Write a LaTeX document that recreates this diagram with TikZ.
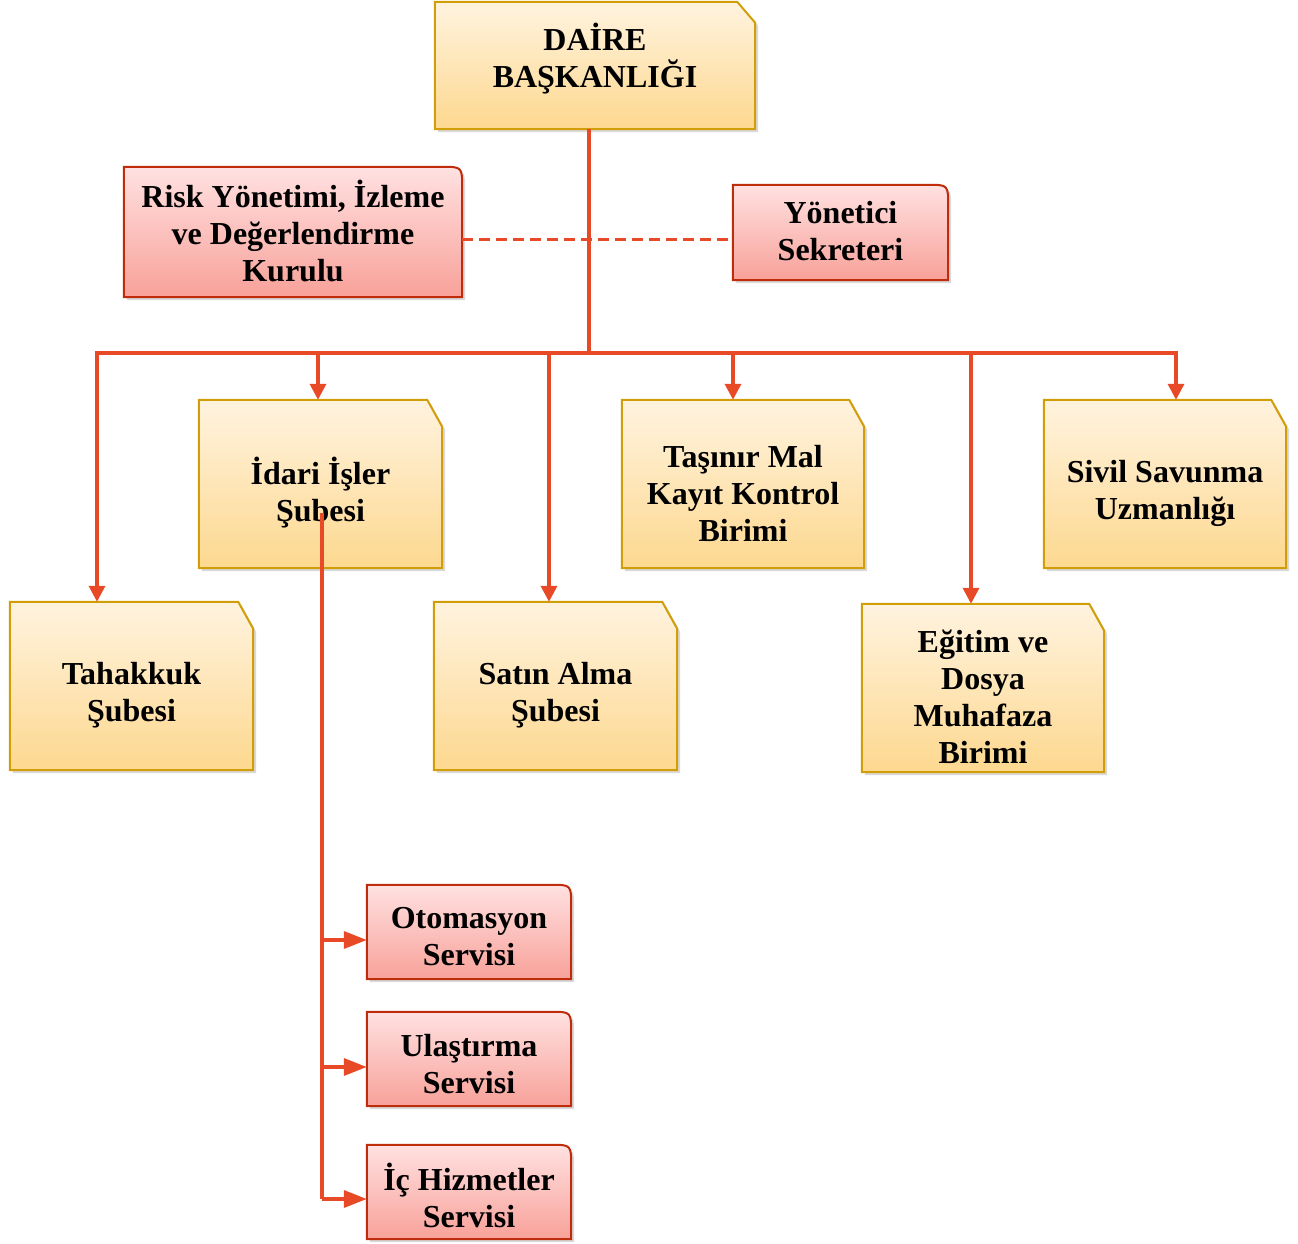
\documentclass[tikz,border=0pt]{standalone}
\usepackage{fontspec}
\setmainfont{Liberation Serif}
\usetikzlibrary{arrows.meta,shadows,backgrounds,calc}
\definecolor{lnc}{HTML}{E84A27}
\definecolor{ytop}{HTML}{FFF3DF}
\definecolor{ybot}{HTML}{FDD88F}
\definecolor{ybrd}{HTML}{D19E0A}
\definecolor{rtop}{HTML}{FFE1E1}
\definecolor{rbot}{HTML}{F8A199}
\definecolor{rbrd}{HTML}{BE2C0C}
\tikzset{
  boxn/.style={inner sep=0pt},
  txt/.style={align=center, inner sep=0pt, font=\fontsize{32}{37}\selectfont\bfseries},
  ybstyle/.style={draw=ybrd, line width=2pt, top color=ytop, bottom color=ybot,
    drop shadow={opacity=0.3, shadow xshift=3pt, shadow yshift=-3pt}},
  rbstyle/.style={draw=rbrd, line width=2pt, top color=rtop, bottom color=rbot,
    drop shadow={opacity=0.3, shadow xshift=3pt, shadow yshift=-3pt}},
  ln/.style={draw=lnc, line width=3.5pt},
  arr/.style={ln, -{Triangle[width=16pt,length=16pt]}},
  arrb/.style={ln, -{Triangle[width=17pt,length=23pt]}},
  dashln/.style={draw=lnc, line width=3pt, dash pattern=on 11pt off 6pt}
}
\newcommand\ybox[3]{\path[ybstyle] (#1.south west) -- (#1.north west) -- ($(#1.north east)+(-#2,0)$) -- ($(#1.north east)+(0,-#3)$) -- (#1.south east) -- cycle;}
\newcommand\rbox[1]{\path[rbstyle] (#1.south west) -- (#1.north west) -- ($(#1.north east)+(-20,0)$) .. controls (#1.north east) .. ($(#1.north east)+(0,-22)$) -- (#1.south east) -- cycle;}
\begin{document}
\begin{tikzpicture}[x=1pt,y=1pt]
\useasboundingbox (0,0) rectangle (1298,1243);
% box frames (named, empty)
\node[boxn, minimum width=320pt, minimum height=127pt] (top) at (595,1177.5) {};
\node[boxn, minimum width=338pt, minimum height=130pt] (risk) at (293,1011) {};
\node[boxn, minimum width=215pt, minimum height=95pt] (yon) at (840.5,1010.5) {};
\node[boxn, minimum width=243pt, minimum height=168pt] (idari) at (320.5,759) {};
\node[boxn, minimum width=242pt, minimum height=168pt] (tasinir) at (743,759) {};
\node[boxn, minimum width=242pt, minimum height=168pt] (sivil) at (1165,759) {};
\node[boxn, minimum width=243pt, minimum height=168pt] (tah) at (131.5,557) {};
\node[boxn, minimum width=243pt, minimum height=168pt] (satin) at (555.5,557) {};
\node[boxn, minimum width=242pt, minimum height=168pt] (egitim) at (983,555) {};
\node[boxn, minimum width=204pt, minimum height=94pt] (oto) at (469,311) {};
\node[boxn, minimum width=204pt, minimum height=94pt] (ulas) at (469,184) {};
\node[boxn, minimum width=204pt, minimum height=94pt] (ic) at (469,51) {};
% box shapes
\ybox{top}{18}{21}
\ybox{idari}{15}{27}
\ybox{tasinir}{15}{27}
\ybox{sivil}{15}{27}
\ybox{tah}{15}{27}
\ybox{satin}{15}{27}
\ybox{egitim}{15}{27}
\rbox{risk}
\rbox{yon}
\rbox{oto}
\rbox{ulas}
\rbox{ic}
% texts
\node[txt, yshift=7] (top-t) at (top) {DAİRE\\BAŞKANLIĞI};
\node[txt, yshift=1] (risk-t) at (risk) {Risk Yönetimi, İzleme\\ve Değerlendirme\\Kurulu};
\node[txt, yshift=1] (yon-t) at (yon) {Yönetici\\Sekreteri};
\node[txt, yshift=-9] (idari-t) at (idari) {İdari İşler\\Şubesi};
\node[txt, yshift=-9] (tasinir-t) at (tasinir) {Taşınır Mal\\Kayıt Kontrol\\Birimi};
\node[txt, yshift=-9] (sivil-t) at (sivil) {Sivil Savunma\\Uzmanlığı};
\node[txt, yshift=-9] (tah-t) at (tah) {Tahakkuk\\Şubesi};
\node[txt, yshift=-9] (satin-t) at (satin) {Satın Alma\\Şubesi};
\node[txt, yshift=-9] (egitim-t) at (egitim) {Eğitim ve\\Dosya\\Muhafaza\\Birimi};
\node[txt, yshift=-5] (oto-t) at (oto) {Otomasyon\\Servisi};
\node[txt, yshift=-5] (ulas-t) at (ulas) {Ulaştırma\\Servisi};
\node[txt, yshift=-3] (ic-t) at (ic) {İç Hizmetler\\Servisi};
% connectors
\coordinate (hub) at (589,890);
\coordinate (b1) at (97,890);
\coordinate (b2) at (318,890);
\coordinate (b3) at (549,890);
\coordinate (b4) at (733,890);
\coordinate (b5) at (971,890);
\coordinate (b6) at (1176,890);
\draw[dashln] ($(risk.east)+(0,-8)$) -- ($(yon.west)+(0,-7.5)$);
\draw[ln] ($(top.south)+(-6,0)$) -- (hub);
\draw[ln, line cap=rect] (b1) -- (b6);
\draw[arr] (b1) -- (b1 |- tah.north);
\draw[arr] (b2) -- (b2 |- idari.north);
\draw[arr] (b3) -- (b3 |- satin.north);
\draw[arr] (b4) -- (b4 |- tasinir.north);
\draw[arr] (b5) -- (b5 |- egitim.north);
\draw[arr] (b6) -- (b6 |- sivil.north);
\coordinate (s0) at (322,730);
\coordinate (s1) at (322,303);
\coordinate (s2) at (322,176);
\coordinate (s3) at (322,44);
\draw[ln] (s0) -- (s3);
\draw[arrb] (s1) -- (s1 -| oto.west);
\draw[arrb] (s2) -- (s2 -| ulas.west);
\draw[arrb] (s3) -- (s3 -| ic.west);
\end{tikzpicture}
\end{document}
